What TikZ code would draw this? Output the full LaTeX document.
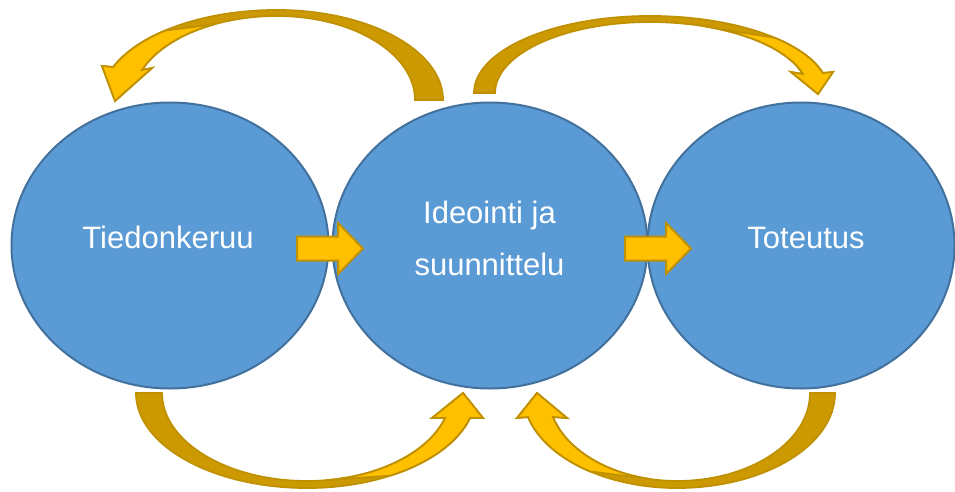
\documentclass[tikz,border=0pt]{standalone}
\usepackage{fontspec}
\setmainfont{Liberation Sans}
\usetikzlibrary{shapes.geometric}
\definecolor{ellfill}{HTML}{5B9BD5}
\definecolor{ellline}{HTML}{41719C}
\definecolor{arrowlight}{HTML}{FFC000}
\definecolor{arrowdark}{HTML}{CC9A00}
\definecolor{arrowline}{HTML}{BF9000}
\begin{document}
\begin{tikzpicture}[x=1pt,y=1pt,
  blob/.style={ellipse, draw=ellline, fill=ellfill, line width=2pt, inner sep=0pt},
  lbl/.style={text=white, font=\fontsize{31}{37}\selectfont, inner sep=0pt, anchor=base},
  darkpart/.style={fill=arrowdark, draw=arrowline, line width=1.8pt, line join=miter},
  lightpart/.style={fill=arrowlight, draw=arrowline, line width=1.8pt, line join=miter},
  blockarrow/.style={fill=arrowlight, draw=arrowline, line width=2pt, line join=miter}]
\useasboundingbox (0,0) rectangle (955,491);

% ellipses
\node[blob, minimum width=317pt, minimum height=286pt] (tk) at (170,245.5) {};
\node[blob, minimum width=315pt, minimum height=286pt] (is) at (490,245.5) {};
\node[blob, minimum width=307pt, minimum height=286pt] (tt) at (801,245.5) {};

% labels
\node[lbl] (tkl) at (168,243) {Tiedonkeruu};
\node[lbl] (isl1) at (489.5,268) {Ideointi ja};
\node[lbl] (isl2) at (489.5,216) {suunnittelu};
\node[lbl] (ttl) at (806,243) {Toteutus};

% straight block arrows
\draw[blockarrow] (297,230.5) -- (338,230.5) -- (338,217) -- (363,242.5) -- (338,268) -- (338,254.5) -- (297,254.5) -- cycle;
\draw[blockarrow] (625,230.5) -- (666,230.5) -- (666,217) -- (691,242.5) -- (666,268) -- (666,254.5) -- (625,254.5) -- cycle;

% top-left curved arrow (middle -> left)
\path[darkpart] (443,391) arc[start angle=0,end angle=90,x radius=166pt,y radius=90pt]
  arc[start angle=90,end angle=158.5,x radius=176pt,y radius=90pt]
  -- (102,425) -- (115,390) -- (152,423) -- (142,421)
  arc[start angle=159.1,end angle=90,x radius=144.5pt,y radius=84pt]
  arc[start angle=90,end angle=0,x radius=138pt,y radius=84pt] -- cycle;
\path[lightpart] (165,460.4) arc[start angle=129.5,end angle=158.5,x radius=176pt,y radius=90pt]
  -- (102,425) -- (115,390) -- (152,423) -- (142,421)
  arc[start angle=159.1,end angle=115.4,x radius=144.5pt,y radius=84pt] -- cycle;

% top-right curved arrow (middle -> right)
\path[darkpart] (474,398) arc[start angle=180,end angle=90,x radius=176pt,y radius=77pt]
  arc[start angle=90,end angle=15.05,x radius=179pt,y radius=77pt]
  -- (833,419) -- (818,397) -- (791,419) -- (802.9,417)
  arc[start angle=15.52,end angle=90,x radius=158.7pt,y radius=71pt]
  arc[start angle=90,end angle=180,x radius=155pt,y radius=71pt] -- cycle;
\path[lightpart] (775,453.1) arc[start angle=45.7,end angle=15.05,x radius=179pt,y radius=77pt]
  -- (833,419) -- (818,397) -- (791,419) -- (802.9,417)
  arc[start angle=15.52,end angle=69.7,x radius=158.7pt,y radius=71pt] -- cycle;

% bottom-left curved arrow (left -> middle)
\path[darkpart] (136,98) arc[start angle=180,end angle=270,x radius=171pt,y radius=95pt]
  arc[start angle=270,end angle=344.74,x radius=169pt,y radius=95pt]
  -- (483,73) -- (463,98) -- (432,73) -- (445.1,73)
  arc[start angle=343.5,end angle=270,x radius=144pt,y radius=88pt]
  arc[start angle=270,end angle=180,x radius=145pt,y radius=88pt] -- cycle;
\path[lightpart] (390,15.3) arc[start angle=299.4,end angle=344.74,x radius=169pt,y radius=95pt]
  -- (483,73) -- (463,98) -- (432,73) -- (445.1,73)
  arc[start angle=343.5,end angle=277.2,x radius=144pt,y radius=88pt] -- cycle;

% bottom-right curved arrow (right -> middle)
\path[darkpart] (835,98) arc[start angle=360,end angle=270,x radius=158pt,y radius=95pt]
  arc[start angle=270,end angle=194.63,x radius=154pt,y radius=95pt]
  -- (517,73) -- (537,98) -- (567,73) -- (552.9,74)
  arc[start angle=195.83,end angle=270,x radius=129pt,y radius=88pt]
  arc[start angle=270,end angle=360,x radius=133pt,y radius=88pt] -- cycle;
\path[lightpart] (590,19.6) arc[start angle=235.6,end angle=194.63,x radius=154pt,y radius=95pt]
  -- (517,73) -- (537,98) -- (567,73) -- (552.9,74)
  arc[start angle=195.83,end angle=257.9,x radius=129pt,y radius=88pt] -- cycle;
\end{tikzpicture}
\end{document}
